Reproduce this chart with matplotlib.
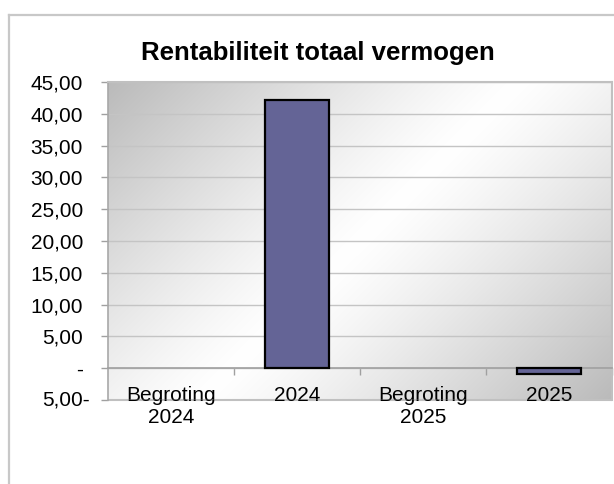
import numpy as np
import matplotlib
matplotlib.use("Agg")
import matplotlib.pyplot as plt
from matplotlib.patches import Rectangle
from matplotlib.lines import Line2D

# ---- data ----
categories = ["Begroting\n2024", "2024", "Begroting\n2025", "2025"]
values = [0.0, 42.2, 0.0, -0.9]
yticks = [-5, 0, 5, 10, 15, 20, 25, 30, 35, 40, 45]
ytick_labels = ["5,00-", "-", "5,00", "10,00", "15,00", "20,00", "25,00",
                "30,00", "35,00", "40,00", "45,00"]
title = "Rentabiliteit totaal vermogen"

plt.rcParams['font.family'] = ['Liberation Sans', 'DejaVu Sans']

W, H = 614, 484
fig = plt.figure(figsize=(W / 100, H / 100), dpi=100)
fig.patch.set_facecolor("white")

# plot area in pixels
L, R, T, B = 108, 612, 82, 400
ax = fig.add_axes([L / W, (H - B) / H, (R - L) / W, (B - T) / H])
ax.set_facecolor("none")

# gradient background (grey corners top-left / bottom-right, white diagonal)
nx, ny = 300, 200
u = np.linspace(0, 1, nx)[None, :]
v = np.linspace(0, 1, ny)[:, None]
pw, ph = R - L, B - T
d = (u * pw + v * ph) / (pw + ph)
val = 1 - 0.27 * np.abs(2 * d - 1) ** 1.2
img = np.dstack([val, val, val])
ax.imshow(img, extent=(0, 1, 0, 1), transform=ax.transAxes, aspect="auto",
          zorder=0, interpolation="bilinear")

x = np.arange(len(categories))
edgecolors = ["black" if v_ != 0 else "none" for v_ in values]
ax.bar(x, values, width=0.515, color="#646496", edgecolor=edgecolors,
       linewidth=1.6, zorder=3)

ax.set_xlim(-0.5, len(categories) - 0.5)
ax.set_ylim(min(yticks), max(yticks))

# grid
ax.set_yticks(yticks)
ax.yaxis.grid(True, color="#c4c4c4", linewidth=1.0)
ax.set_axisbelow("line")

FS = 15
# y tick labels
labels = list(ytick_labels)
neg_label = labels[0]
labels[0] = ""
ax.set_yticklabels(labels, fontsize=FS)
ax.tick_params(axis="y", direction="out", length=5, width=1.0,
               color="#a0a0a0", pad=13)
ax.annotate(neg_label, xy=(0, yticks[0]), xycoords=("axes fraction", "data"),
            xytext=(-18, 0), textcoords="offset pixels", ha="right",
            va="center", fontsize=FS, annotation_clip=False)

# x axis at zero
ax.spines["bottom"].set_position(("data", 0))
ax.spines["bottom"].set_color("#a0a0a0")
ax.spines["bottom"].set_linewidth(1.2)
ax.spines["bottom"].set_zorder(2.5)
ax.set_xticks(x)
ax.set_xticklabels(categories, fontsize=FS, linespacing=1.15)
ax.set_xticks(list(x[:-1] + 0.5) + [x[-1] + 0.5], minor=True)
ax.tick_params(axis="x", which="major", length=0, pad=13)
ax.tick_params(axis="x", which="minor", direction="out", length=5,
               width=1.0, color="#a0a0a0")

for s in ["left", "top", "right"]:
    ax.spines[s].set_color("#c0c0c0")
    ax.spines[s].set_linewidth(1.5)
ax.spines["left"].set_color("#a8a8a8")
ax.spines["left"].set_linewidth(1.2)

# plot-area bottom border (behind the category labels)
ax.add_patch(Rectangle((0, 0), 1, 0, transform=ax.transAxes, fill=False,
                       edgecolor="#c0c0c0", linewidth=1.5, clip_on=False,
                       zorder=1))

# title
fig.text(317.5 / W, 1 - 60 / H, title, ha="center", va="baseline",
         fontsize=18.5, fontweight="bold")

# chart border (left and top lines)
fig.add_artist(Line2D([8.5 / W, 8.5 / W], [0, 1 - 14.5 / H],
                      transform=fig.transFigure, color="#c8c8c8", linewidth=1.6))
fig.add_artist(Line2D([8.5 / W, 1], [1 - 14.5 / H, 1 - 14.5 / H],
                      transform=fig.transFigure, color="#c8c8c8", linewidth=1.6))

fig.savefig("out.png", dpi=100)
